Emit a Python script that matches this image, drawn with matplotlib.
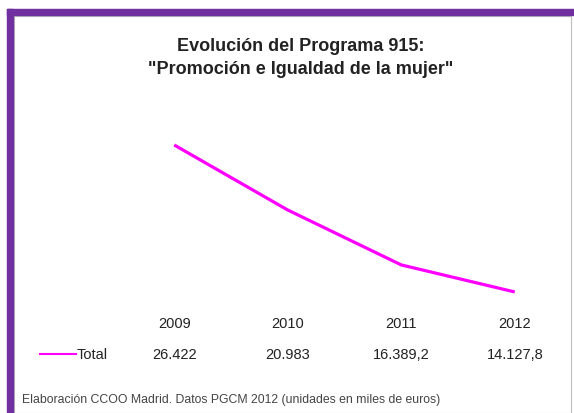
import matplotlib
matplotlib.use("Agg")
import matplotlib.pyplot as plt
from matplotlib.patches import Rectangle

years = ["2009", "2010", "2011", "2012"]
values = [26422, 20983, 16389.2, 14127.8]
value_labels = ["26.422", "20.983", "16.389,2", "14.127,8"]
series_name = "Total"
title = 'Evolución del Programa 915:\n"Promoción e Igualdad de la mujer"'
footer = "Elaboración CCOO Madrid. Datos PGCM 2012 (unidades en miles de euros)"

W, H = 574, 414
fig = plt.figure(figsize=(W / 100, H / 100), dpi=100)
fig.patch.set_facecolor("white")

FONT = ["Liberation Sans", "DejaVu Sans"]
purple = "#7030A0"

def fx(px):
    return px / W

def fy(py):
    return 1 - py / H

# frame
fig.add_artist(Rectangle((fx(7), 0), fx(6), fy(10),
                         transform=fig.transFigure, color=purple, zorder=5))
fig.add_artist(Rectangle((fx(7), fy(16)), 1 - fx(7), fy(10) - fy(16),
                         transform=fig.transFigure, color=purple, zorder=5))
fig.add_artist(Rectangle((fx(14), fy(414)), fx(571) - fx(14), fy(17) - fy(414),
                         transform=fig.transFigure, fill=False, edgecolor="#bdbdbd",
                         linewidth=0.8, zorder=4))

ax_left, ax_right = 117.5, 571.5
ax_top, ax_bottom = 100, 305
ax = fig.add_axes([fx(ax_left), fy(ax_bottom), fx(ax_right) - fx(ax_left), fy(ax_top) - fy(ax_bottom)])
ax.set_facecolor("none")
x = list(range(len(years)))
ax.plot(x, values, color="#FF00FF", linewidth=2.3, solid_capstyle="butt")
ax.set_xlim(-0.5, len(years) - 0.5)
ax.set_ylim(13120, 30270)
ax.axis("off")

tr = ax.get_xaxis_transform()
for i, (yr, lab) in enumerate(zip(years, value_labels)):
    ax.text(i, -0.093, yr, transform=tr, ha="center", va="center",
            fontsize=10.5, family=FONT, color="#222222")
    ax.text(i, -0.244, lab, transform=tr, ha="center", va="center",
            fontsize=10.5, family=FONT, color="#222222")

# legend key
ax.plot([-1.18, -0.865], [-0.244, -0.244], transform=tr, color="#FF00FF",
        linewidth=1.5, clip_on=False)
ax.text(-0.86, -0.244, series_name, transform=tr, ha="left", va="center",
        fontsize=10.5, family=FONT, color="#222222")

fig.text(fx(301), fy(58), title, ha="center", va="center", fontsize=13,
         fontweight="bold", family=FONT, color="#222222", linespacing=1.4)
fig.text(fx(22), fy(400), footer, ha="left", va="center", fontsize=8.8,
         family=FONT, color="#444444")

fig.savefig("out.png", dpi=100)
